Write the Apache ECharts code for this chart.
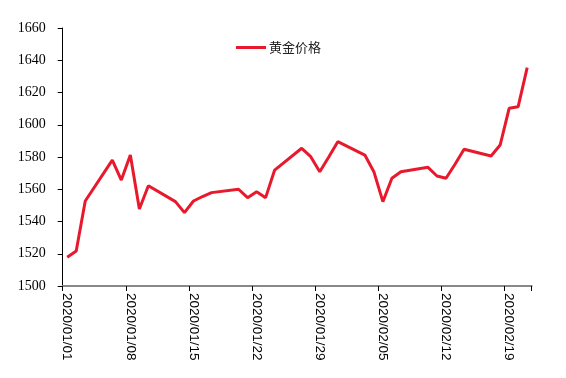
<!DOCTYPE html>
<html>
<head>
<meta charset="utf-8">
<script src="https://cdn.jsdelivr.net/npm/echarts@6/dist/echarts.min.js"></script>
<style>
  html, body { margin: 0; padding: 0; background: #fff; }
  #chart { width: 566px; height: 378px; }
</style>
</head>
<body>
<div id="chart"></div>
<script>
// 日期（含周末，周末无数据）
const dates = [
    '2020/01/01', '2020/01/02', '2020/01/03', '2020/01/04', '2020/01/05', '2020/01/06', '2020/01/07',
    '2020/01/08', '2020/01/09', '2020/01/10', '2020/01/11', '2020/01/12', '2020/01/13', '2020/01/14',
    '2020/01/15', '2020/01/16', '2020/01/17', '2020/01/18', '2020/01/19', '2020/01/20', '2020/01/21',
    '2020/01/22', '2020/01/23', '2020/01/24', '2020/01/25', '2020/01/26', '2020/01/27', '2020/01/28',
    '2020/01/29', '2020/01/30', '2020/01/31', '2020/02/01', '2020/02/02', '2020/02/03', '2020/02/04',
    '2020/02/05', '2020/02/06', '2020/02/07', '2020/02/08', '2020/02/09', '2020/02/10', '2020/02/11',
    '2020/02/12', '2020/02/13', '2020/02/14', '2020/02/15', '2020/02/16', '2020/02/17', '2020/02/18',
    '2020/02/19', '2020/02/20', '2020/02/21'
];

// 黄金价格
const goldPrice = [
    1517.8, 1521.7, 1552.7, null, null, 1578.1, 1565.7,
    1581.2, 1547.8, 1562.2, null, null, 1552.3, 1545.5,
    1552.7, 1555.5, 1557.9, null, null, 1560.0, 1554.8,
    1558.5, 1554.8, 1571.9, null, null, 1585.4, 1580.2,
    1570.9, 1580.0, 1589.5, null, null, 1581.2, 1570.9,
    1552.3, 1566.8, 1570.9, null, null, 1573.6, 1568.2,
    1566.8, 1575.5, 1584.8, null, null, 1580.6, 1587.4,
    1610.2, 1611.2, 1635.4
];

const yMin = 1500;
const yMax = 1660;
const yStep = 20;

const chart = echarts.init(document.getElementById('chart'));

const option = {
    animation: false,
    backgroundColor: '#fff',
    legend: {
        data: ['黄金价格'],
        left: 231,
        top: 36,
        icon: 'rect',
        itemWidth: 30,
        itemHeight: 3,
        itemGap: 4,
        textStyle: {
            fontFamily: 'Noto Sans CJK SC',
            fontSize: 13,
            padding: [0, 0, 0, -2],
            color: '#222'
        }
    },
    grid: {
        left: 62.7,
        right: 34.3,
        top: 28,
        bottom: 92
    },
    xAxis: {
        type: 'category',
        data: dates,
        boundaryGap: true,
        axisLine: {
            lineStyle: { color: '#888', width: 2 }
        },
        axisTick: {
            show: true,
            interval: function(index) { return index % 7 === 0; },
            length: 5,
            lineStyle: { color: '#000', width: 1 }
        },
        axisLabel: {
            interval: 6,
            rotate: -90,
            margin: 7,
            fontFamily: 'Liberation Sans',
            fontSize: 13.5,
            color: '#000'
        },
        splitLine: { show: false }
    },
    yAxis: {
        type: 'value',
        min: yMin,
        max: yMax,
        interval: yStep,
        axisLine: {
            show: true,
            lineStyle: { color: '#000', width: 1 }
        },
        axisTick: {
            show: true,
            length: 5,
            lineStyle: { color: '#000', width: 1 }
        },
        axisLabel: {
            margin: 17,
            fontFamily: 'Liberation Serif',
            fontSize: 14,
            color: '#000',
            formatter: function(v) { return String(v); }
        },
        splitLine: { show: false }
    },
    series: [{
        name: '黄金价格',
        type: 'line',
        data: goldPrice,
        connectNulls: true,
        symbol: 'none',
        lineStyle: { color: '#E8192C', width: 3 },
        itemStyle: { color: '#E8192C' }
    }]
};

chart.setOption(option);
</script>
</body>
</html>
